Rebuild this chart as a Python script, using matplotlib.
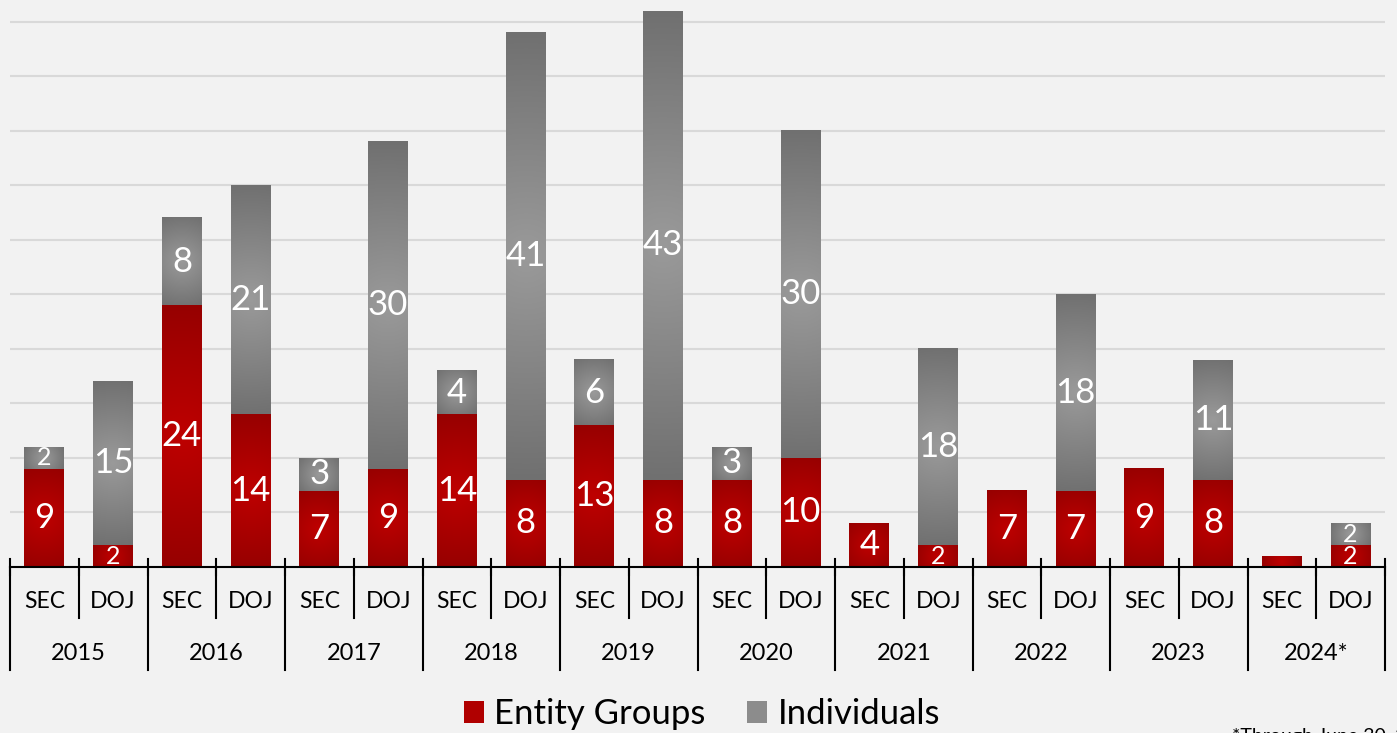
import numpy as np
import matplotlib
matplotlib.use("Agg")
import matplotlib.pyplot as plt
from matplotlib.patches import Patch
from matplotlib.colors import to_rgb
import matplotlib.transforms as mtransforms

# ---------------- data ----------------
years = ['2015', '2016', '2017', '2018', '2019', '2020', '2021', '2022', '2023', '2024*']
agencies = ['SEC', 'DOJ']
sec_entity = [9, 24, 7, 14, 13, 8, 4, 7, 9, 1]
sec_indiv = [2, 8, 3, 4, 6, 3, 0, 0, 0, 0]
doj_entity = [2, 14, 9, 8, 8, 10, 2, 7, 8, 2]
doj_indiv = [15, 21, 30, 41, 43, 30, 18, 18, 11, 2]
series_names = ['Entity Groups', 'Individuals']
footnote = '*Through June 30, 2024'

# ---------------- style ----------------
FONT = ['Lato', 'DejaVu Sans']
plt.rcParams['font.family'] = FONT
BG = '#F2F2F2'
RED_C, RED_E = '#BE0000', '#960000'
GRAY_C, GRAY_E = '#9A9A9A', '#707070'

W, H = 1397, 733
fig = plt.figure(figsize=(W / 100, H / 100), dpi=100, facecolor=BG)
ax_l, ax_r, ax_b, ax_t = 10, 1385, 567, 0
ax = fig.add_axes([ax_l / W, (H - ax_b) / H, (ax_r - ax_l) / W, (ax_b - ax_t) / H])
ax.set_facecolor(BG)

n = len(years)
xs = np.arange(2 * n)
entity = []
indiv = []
for i in range(n):
    entity += [sec_entity[i], doj_entity[i]]
    indiv += [sec_indiv[i], doj_indiv[i]]
entity = np.array(entity)
indiv = np.array(indiv)

XMIN, XMAX, YMIN, YMAX = -0.5, 2 * n - 0.5, 0, 52
ax.set_xlim(XMIN, XMAX)
ax.set_ylim(YMIN, YMAX)

bw = 0.58
b1 = ax.bar(xs, entity, bw, color=RED_C, zorder=2)
b2 = ax.bar(xs, indiv, bw, bottom=entity, color=GRAY_C, zorder=2)

px_x = (ax_r - ax_l) / (XMAX - XMIN)
px_y = (ax_b - ax_t) / (YMAX - YMIN)


def gradient_fill(rect, c_center, c_edge):
    x0, y0 = rect.get_x(), rect.get_y()
    w, h = rect.get_width(), rect.get_height()
    if h <= 0:
        return
    hw, hh = w / 2 * px_x, h / 2 * px_y
    u = np.linspace(-1, 1, 80)
    v = np.linspace(-1, 1, 160)
    U, V = np.meshgrid(u, v)
    t = np.sqrt((U * hw) ** 2 + (V * hh) ** 2) / np.sqrt(hw ** 2 + hh ** 2)
    cc, ce = np.array(to_rgb(c_center)), np.array(to_rgb(c_edge))
    img = cc[None, None, :] + (ce - cc)[None, None, :] * t[..., None]
    ax.imshow(img, extent=(x0, x0 + w, y0, y0 + h), aspect='auto',
              interpolation='bilinear', zorder=3, origin='lower')


for r in b1:
    gradient_fill(r, RED_C, RED_E)
for r in b2:
    gradient_fill(r, GRAY_C, GRAY_E)
ax.set_xlim(XMIN, XMAX)
ax.set_ylim(YMIN, YMAX)

# data labels
for i in range(2 * n):
    for val, base in ((entity[i], 0), (indiv[i], entity[i])):
        if val >= 2:
            fs = 18 if val <= 2 else 25
            ax.text(xs[i], base + val / 2, str(val), ha='center', va='center',
                    color='white', fontsize=fs, zorder=5, clip_on=True)

# grid
ax.set_yticks(np.arange(5, 51, 5))
ax.yaxis.grid(True, color='#D9D9D9', lw=1.5, zorder=0)
ax.set_axisbelow(True)
ax.tick_params(left=False, labelleft=False, bottom=False, labelbottom=False)
for s in ['left', 'right', 'top']:
    ax.spines[s].set_visible(False)
ax.spines['bottom'].set_color('black')
ax.spines['bottom'].set_linewidth(1.5)
ax.spines['bottom'].set_zorder(6)

# multi-level category axis
trans = mtransforms.blended_transform_factory(ax.transData, ax.transAxes)
ah = ax_b - ax_t
def ya(ypix):
    return (ax_b - ypix) / ah

for k in range(2 * n + 1):
    xb = k - 0.5
    ax.plot([xb, xb], [ya(559), ya(575)], color='black', lw=1.5, transform=trans,
            clip_on=False, zorder=6)
    bottom = 670 if k % 2 == 0 else 618
    ax.plot([xb, xb], [ya(567), ya(bottom)], color='black', lw=1.5, transform=trans,
            clip_on=False, zorder=6)

for i in range(2 * n):
    ax.text(xs[i], ya(602), agencies[i % 2], transform=trans, ha='center', va='center',
            fontsize=16.5, color='black')
for j in range(n):
    ax.text(2 * j + 0.5, ya(653), years[j], transform=trans, ha='center', va='center',
            fontsize=17, color='black')

# legend
handles = [Patch(facecolor='#B00000', edgecolor='none', label=series_names[0]),
           Patch(facecolor='#8C8C8C', edgecolor='none', label=series_names[1])]
fig.legend(handles=handles, loc='center', bbox_to_anchor=(702 / W, 1 - 714 / H),
           ncol=2, frameon=False, fontsize=25, handlelength=0.58, handleheight=0.58,
           handletextpad=0.3, columnspacing=1.2, borderpad=0)

fig.text(1232 / W, 1 - 728 / H, footnote, ha='left', va='top', fontsize=14, color='black')

fig.savefig('out.png', dpi=100, facecolor=BG)
